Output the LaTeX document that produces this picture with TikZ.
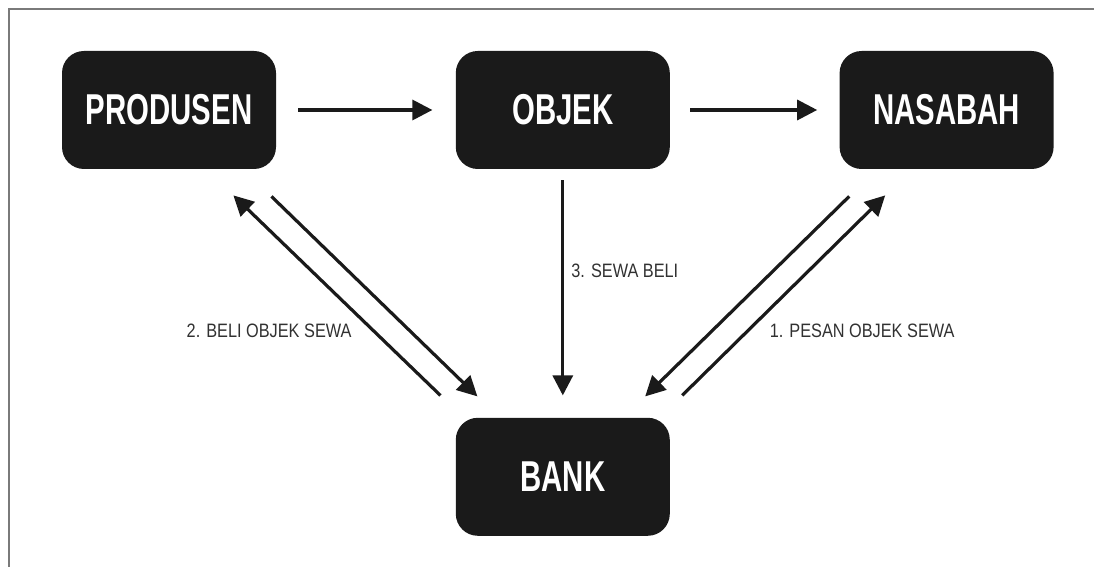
\documentclass[tikz,border=0pt]{standalone}
\usepackage{fontspec}
\setmainfont{Liberation Sans}
\newfontfamily\blokfont[FakeStretch=0.68]{Liberation Sans}
\newfontfamily\ketfont[FakeStretch=0.84]{Liberation Sans}
\usetikzlibrary{positioning,arrows.meta}
\definecolor{blokhitam}{HTML}{1A1A1A}
\definecolor{bingkai}{HTML}{7A7A7A}
\tikzset{x=0.5pt, y=0.5pt}
\tikzstyle{blok}=[draw=none, fill=blokhitam, rounded corners=11pt, minimum width=107pt, minimum height=59pt, text=white, font=\blokfont\bfseries\fontsize{21.6}{24}\selectfont]
\tikzstyle{panah}=[line width=1.6pt, draw=blokhitam, -{Triangle[length=10pt,width=10pt]}]
\tikzstyle{ket}=[inner sep=0pt, text=blokhitam!90, font=\ketfont\fontsize{9.7}{11}\selectfont]

\begin{document}
\begin{tikzpicture}
        \useasboundingbox (0,0) rectangle (1094,567);
        \draw[line width=0.6pt, bingkai] (9,0) -- (9,558) -- (1094,558);
        \node[blok] (prod) at (169,457) {PRODUSEN};
        \node[blok, right=89.5pt of prod] (obj) {OBJEK};
        \node[blok, right=84.5pt of obj] (nas) {NASABAH};
        \node[blok, below=124pt of obj] (bank) {BANK};
        \draw (prod) edge[panah, shorten <=11pt, shorten >=11.5pt] (obj);
        \draw (obj) edge[panah, shorten <=10pt, shorten >=11pt] (nas);
        \draw (obj) edge[panah, shorten <=5.5pt, shorten >=11pt] node[ket, pos=0.41, anchor=west, xshift=3.5pt] {3. SEWA BELI} (bank);
        % kiri: produsen <-> bank
        \draw ([xshift=-7.5pt,yshift=11pt]bank.north west) edge[panah] node[ket, pos=0.325, anchor=east, xshift=-10pt] {2. BELI OBJEK SEWA} ([xshift=-21.5pt,yshift=-13pt]prod.south east);
        \draw ([xshift=-2.5pt,yshift=-13.5pt]prod.south east) edge[panah] ([xshift=11pt,yshift=10.5pt]bank.north west);
        % kanan: nasabah <-> bank
        \draw ([xshift=5pt,yshift=-13.5pt]nas.south west) edge[panah] ([xshift=-12.5pt,yshift=10.5pt]bank.north east);
        \draw ([xshift=6pt,yshift=11pt]bank.north east) edge[panah] node[ket, pos=0.325, anchor=west, xshift=10pt] {1. PESAN OBJEK SEWA} ([xshift=23pt,yshift=-13pt]nas.south west);
\end{tikzpicture}
\end{document}
